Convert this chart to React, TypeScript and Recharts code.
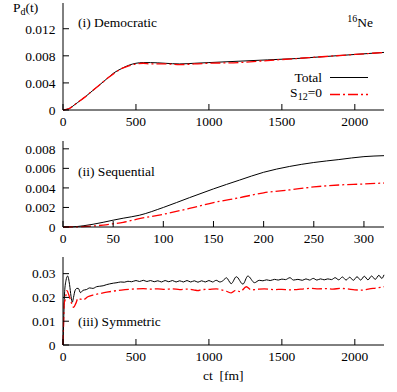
import React from 'react';
import { LineChart, Line, XAxis, YAxis } from 'recharts';

// (i) democratic
const demoX = [0, 25, 50, 75, 100, 150, 200, 250, 300, 350, 400, 450, 500, 550, 600, 700, 800, 900, 1000, 1200, 1400, 1600, 1800, 2000, 2200];
const demoTotal = [0, 0.0001, 0.0003, 0.0007, 0.0011, 0.0019, 0.0028, 0.0037, 0.0046, 0.0055, 0.0061, 0.0066, 0.0069, 0.007, 0.007, 0.0069, 0.0068, 0.0069, 0.007, 0.0072, 0.0074, 0.0076, 0.0079, 0.0082, 0.0085];
const demoS12 = [0, 0.0001, 0.0003, 0.0007, 0.0011, 0.0019, 0.0028, 0.0037, 0.0046, 0.0054, 0.0061, 0.0065, 0.0068, 0.0069, 0.0068, 0.0068, 0.0067, 0.0068, 0.0069, 0.007, 0.0073, 0.0076, 0.0079, 0.0082, 0.0085];

// (ii) sequential
const seqX = [0, 10, 20, 30, 40, 50, 60, 76, 100, 126, 150, 176, 200, 226, 250, 275, 300, 320];
const seqTotal = [0, 0.00002, 0.00012, 0.00028, 0.00048, 0.0007, 0.0009, 0.0012, 0.002, 0.003, 0.0039, 0.0048, 0.0056, 0.0062, 0.0066, 0.0069, 0.0072, 0.0073];
const seqS12 = [0, 0.00001, 0.00004, 0.0001, 0.0002, 0.00033, 0.00048, 0.00085, 0.0013, 0.0019, 0.0025, 0.003, 0.0035, 0.0038, 0.0041, 0.0043, 0.0044, 0.0045];

// (iii) symmetric
const symTotalX = [0, 5, 10, 20, 32, 45, 55, 64, 72, 82, 95, 105, 120, 137, 160, 183, 205, 230, 251, 275, 300, 320, 345, 370, 395, 420, 445, 470, 500, 525, 550, 575, 600, 625, 650, 675, 700, 725, 750, 775, 800, 825, 850, 875, 900, 925, 950, 975, 1000, 1025, 1050, 1075, 1100, 1119, 1153, 1188, 1233, 1267, 1313, 1345, 1370, 1395, 1420, 1450, 1475, 1500, 1525, 1555, 1580, 1610, 1640, 1665, 1690, 1715, 1740, 1765, 1790, 1815, 1840, 1865, 1890, 1915, 1940, 1965, 1990, 2015, 2040, 2065, 2090, 2115, 2140, 2165, 2185, 2200];
const symTotal = [0, 0.011, 0.021, 0.027, 0.029, 0.0254, 0.0205, 0.018, 0.02, 0.0228, 0.0238, 0.0238, 0.022, 0.023, 0.0233, 0.024, 0.0238, 0.0245, 0.0247, 0.0249, 0.0254, 0.0257, 0.026, 0.0262, 0.0265, 0.0264, 0.0268, 0.0266, 0.0271, 0.0267, 0.0272, 0.0267, 0.0271, 0.0266, 0.027, 0.0265, 0.0271, 0.0266, 0.0271, 0.0265, 0.027, 0.0265, 0.0271, 0.0265, 0.027, 0.0264, 0.027, 0.0265, 0.0271, 0.0265, 0.0272, 0.0265, 0.0272, 0.0283, 0.0258, 0.0287, 0.0256, 0.029, 0.0262, 0.0272, 0.027, 0.0274, 0.0271, 0.0276, 0.0273, 0.0277, 0.0275, 0.0283, 0.0273, 0.0276, 0.0272, 0.0278, 0.0273, 0.028, 0.0273, 0.0278, 0.0274, 0.0278, 0.0275, 0.0283, 0.0274, 0.0286, 0.0273, 0.0285, 0.0272, 0.0287, 0.0273, 0.0289, 0.0274, 0.029, 0.0276, 0.0293, 0.028, 0.0295];
const symS12X = [0, 4, 8, 15, 27, 40, 57, 73, 88, 103, 120, 137, 170, 205, 250, 300, 350, 400, 450, 500, 550, 600, 650, 700, 750, 800, 850, 900, 925, 950, 1000, 1050, 1085, 1120, 1153, 1185, 1215, 1256, 1290, 1330, 1380, 1450, 1500, 1550, 1600, 1650, 1700, 1750, 1800, 1850, 1900, 1950, 2000, 2050, 2100, 2150, 2200];
const symS12 = [0, 0.009, 0.0175, 0.019, 0.0229, 0.021, 0.0178, 0.0158, 0.0175, 0.0196, 0.0193, 0.019, 0.0203, 0.021, 0.0216, 0.0222, 0.0227, 0.0231, 0.0234, 0.0236, 0.0237, 0.0235, 0.0236, 0.0234, 0.0236, 0.0233, 0.0235, 0.0231, 0.0229, 0.0233, 0.0234, 0.0236, 0.0232, 0.0226, 0.0219, 0.023, 0.0224, 0.0245, 0.0232, 0.0234, 0.0236, 0.0233, 0.0234, 0.0232, 0.0233, 0.0236, 0.0238, 0.0236, 0.0237, 0.0235, 0.0238, 0.0236, 0.0232, 0.0231, 0.0236, 0.024, 0.0245];

const longTicks = [0, 500, 1000, 1500, 2000];
const shortTicks = [0, 50, 100, 150, 200, 250, 300];
const demoYTicks = [0, 0.004, 0.008, 0.012];
const seqYTicks = [0, 0.002, 0.004, 0.006, 0.008];
const symYTicks = [0, 0.01, 0.02, 0.03];

const FONT = '"Liberation Serif", serif';
const FS = 13.5;
const W = 397;

const pts = (xs: number[], ys: number[]) => xs.map((x, i) => ({ x, y: ys[i] }));

interface PanelProps {
    top: number;
    height: number;
    xDomain: [number, number];
    xTicks: number[];
    yDomain: [number, number];
    yTicks: number[];
    yFmt: (v: number) => string;
    total: { x: number; y: number }[];
    s12: { x: number; y: number }[];
}

function Panel({ top, height, xDomain, xTicks, yDomain, yTicks, yFmt, total, s12 }: PanelProps) {
    const tickStyle = { fill: '#000', fontSize: FS, fontFamily: FONT };
    const ax = { stroke: '#000', strokeWidth: 1 };
    return (
        <div style={{ position: 'absolute', left: 0, top }}>
            <LineChart width={W} height={height} margin={{ top: 3, right: 13, bottom: 0, left: 0 }}>
                <XAxis xAxisId="b" type="number" dataKey="x" domain={xDomain} ticks={xTicks} interval={0}
                    orientation="bottom" height={20} tickSize={-6} tickMargin={12}
                    tick={tickStyle} axisLine={ax} tickLine={ax} />
                <XAxis xAxisId="t" type="number" dataKey="x" domain={xDomain} ticks={xTicks} interval={0}
                    orientation="top" height={0} tickSize={-6} tick={false} axisLine={ax} tickLine={ax} />
                <YAxis yAxisId="l" type="number" domain={yDomain} ticks={yTicks} interval={0}
                    width={63} tickSize={-6} tickMargin={13.5} tickFormatter={yFmt}
                    tick={tickStyle} axisLine={ax} tickLine={ax} />
                <YAxis yAxisId="r" type="number" domain={yDomain} ticks={yTicks} interval={0}
                    orientation="right" width={0} tickSize={-6} tick={false} axisLine={ax} tickLine={ax} />
                <Line xAxisId="b" yAxisId="l" data={total} dataKey="y" type="monotone" stroke="#000"
                    strokeWidth={1} dot={false} isAnimationActive={false} />
                <Line xAxisId="b" yAxisId="l" data={s12} dataKey="y" type="monotone" stroke="#ff0000"
                    strokeWidth={1.3} strokeDasharray="10 3 2 3" dot={false} isAnimationActive={false} />
            </LineChart>
        </div>
    );
}

const fmt3 = (v: number) => (v === 0 ? '0' : v.toFixed(3));
const fmt2 = (v: number) => (v === 0 ? '0' : v.toFixed(2));

export default function App() {
    const txt = { fontFamily: FONT, fontSize: FS, fill: '#000' };
    return (
        <div style={{ position: 'absolute', left: 0, top: 0, width: W, height: 392, background: '#fff' }}>
            <Panel top={0} height={130} xDomain={[0, 2200]} xTicks={longTicks} yDomain={[0, 0.0158]}
                yTicks={demoYTicks} yFmt={fmt3} total={pts(demoX, demoTotal)} s12={pts(demoX, demoS12)} />
            <Panel top={138} height={109} xDomain={[0, 320]} xTicks={shortTicks} yDomain={[0, 0.0088]}
                yTicks={seqYTicks} yFmt={fmt3} total={pts(seqX, seqTotal)} s12={pts(seqX, seqS12)} />
            <Panel top={254} height={111} xDomain={[0, 2200]} xTicks={longTicks} yDomain={[0, 0.037]}
                yTicks={symYTicks} yFmt={fmt2} total={pts(symTotalX, symTotal)} s12={pts(symS12X, symS12)} />

            <svg width={W} height={392} style={{ position: 'absolute', left: 0, top: 0, pointerEvents: 'none' }}>
                <text x={13} y={11.5} {...txt}>P<tspan dy={3.5} fontSize={10}>d</tspan><tspan dy={-3.5}>(t)</tspan></text>
                <text x={78} y={26.5} {...txt}>(i) Democratic</text>
                <text x={373} y={27} textAnchor="end" {...txt}><tspan dy={-5} fontSize={10}>16</tspan><tspan dy={5}>Ne</tspan></text>

                <text x={322} y={81.5} textAnchor="end" {...txt}>Total</text>
                <line x1={330} x2={368} y1={77.5} y2={77.5} stroke="#000" strokeWidth={1} />
                <text x={322} y={97} textAnchor="end" {...txt}>S<tspan dy={3} fontSize={10}>12</tspan><tspan dy={-3}>=0</tspan></text>
                <line x1={330} x2={368} y1={94.5} y2={94.5} stroke="#ff0000" strokeWidth={1.3} strokeDasharray="10 3 2 3" />

                <text x={78} y={175.5} {...txt}>(ii) Sequential</text>
                <text x={78} y={325.5} {...txt}>(iii) Symmetric</text>
                <text x={203} y={380} {...txt} xmlSpace="preserve">ct  [fm]</text>
            </svg>
        </div>
    );
}
